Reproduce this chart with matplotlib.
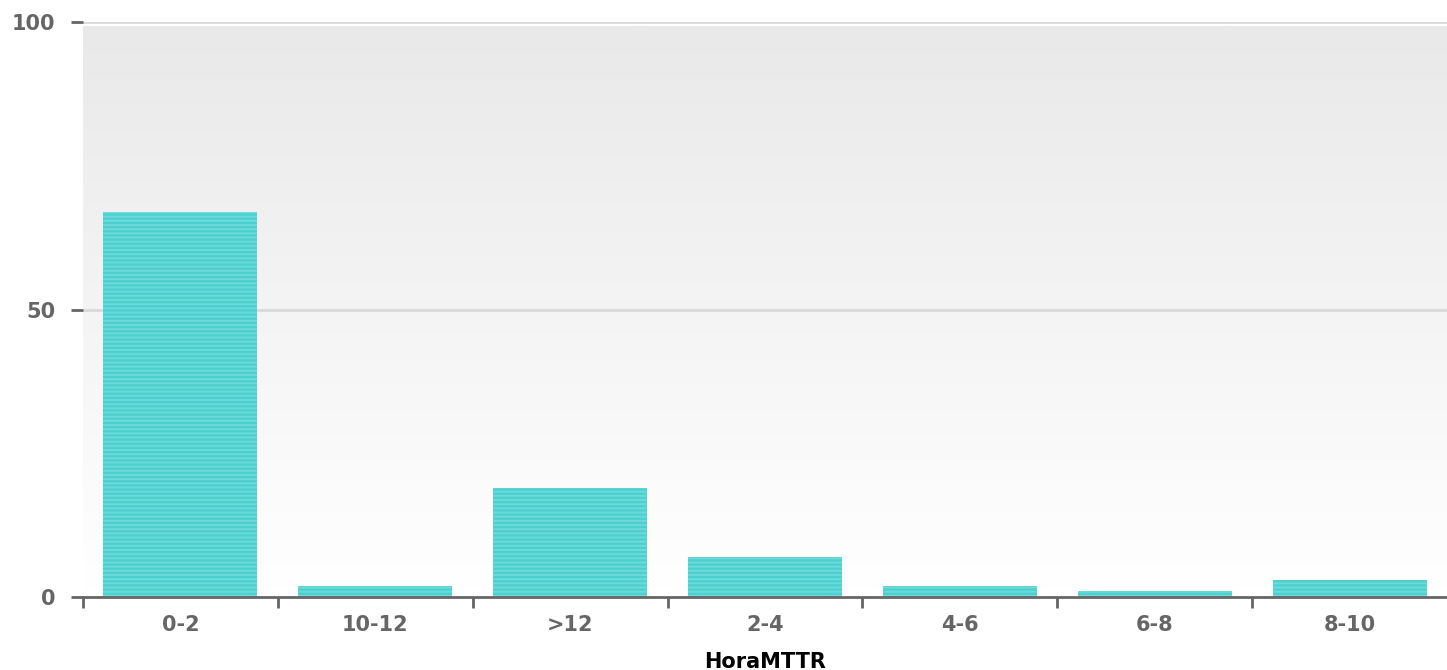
import matplotlib
matplotlib.use("Agg")
import matplotlib.pyplot as plt
import numpy as np
from matplotlib.colors import LinearSegmentedColormap

categories = ["0-2", "10-12", ">12", "2-4", "4-6", "6-8", "8-10"]
values = [67, 2, 19, 7, 2, 1, 3]
y_ticks = [0, 50, 100]
x_label = "HoraMTTR"

plt.rcParams['hatch.linewidth'] = 1.6
plt.rcParams['hatch.color'] = '#4ccfcf'

fig = plt.figure(figsize=(14.47, 6.70), dpi=100)
ax = fig.add_axes([83/1447, 73/670, 1 - 83/1447, (597-22)/670])

# gradient background
cmap = LinearSegmentedColormap.from_list("bg", ["#ffffff", "#e9e9e9"])
grad = np.linspace(0, 1, 256).reshape(-1, 1)
ax.imshow(grad, aspect='auto', cmap=cmap, origin='lower',
          extent=(0, 1, 0.01, 0.991), transform=ax.transAxes, zorder=0)

x = np.arange(len(categories))
ax.bar(x, values, width=0.79, color='#6cdada', edgecolor='#4ccfcf',
       hatch='----', linewidth=0, zorder=3)

ax.set_xlim(-0.5, len(categories) - 0.5)
ax.set_ylim(0, 100)
ax.set_yticks(y_ticks)
ax.set_yticklabels([str(t) for t in y_ticks])
for t in [50, 100]:
    ax.axhline(t, color='#d9d9d9', linewidth=2, zorder=1)

ax.set_xticks(x)
ax.set_xticklabels(categories)
ax.set_xticks(np.arange(len(categories)) - 0.5, minor=True)

for s in ['top', 'right', 'left']:
    ax.spines[s].set_visible(False)
ax.spines['bottom'].set_color('#666666')
ax.spines['bottom'].set_linewidth(2)
ax.spines['bottom'].set_zorder(4)

ax.tick_params(axis='x', which='major', length=0, pad=13, labelsize=15,
               labelcolor='#666666')
ax.tick_params(axis='x', which='minor', length=8, width=2, color='#666666')
ax.tick_params(axis='y', length=9, width=2, color='#666666', pad=11,
               labelsize=15, labelcolor='#666666')
for lab in ax.get_xticklabels() + ax.get_yticklabels():
    lab.set_fontweight('bold')

ax.set_xlabel(x_label, fontsize=15, fontweight='bold', color='black', labelpad=12)

fig.savefig("out.png", dpi=100)
